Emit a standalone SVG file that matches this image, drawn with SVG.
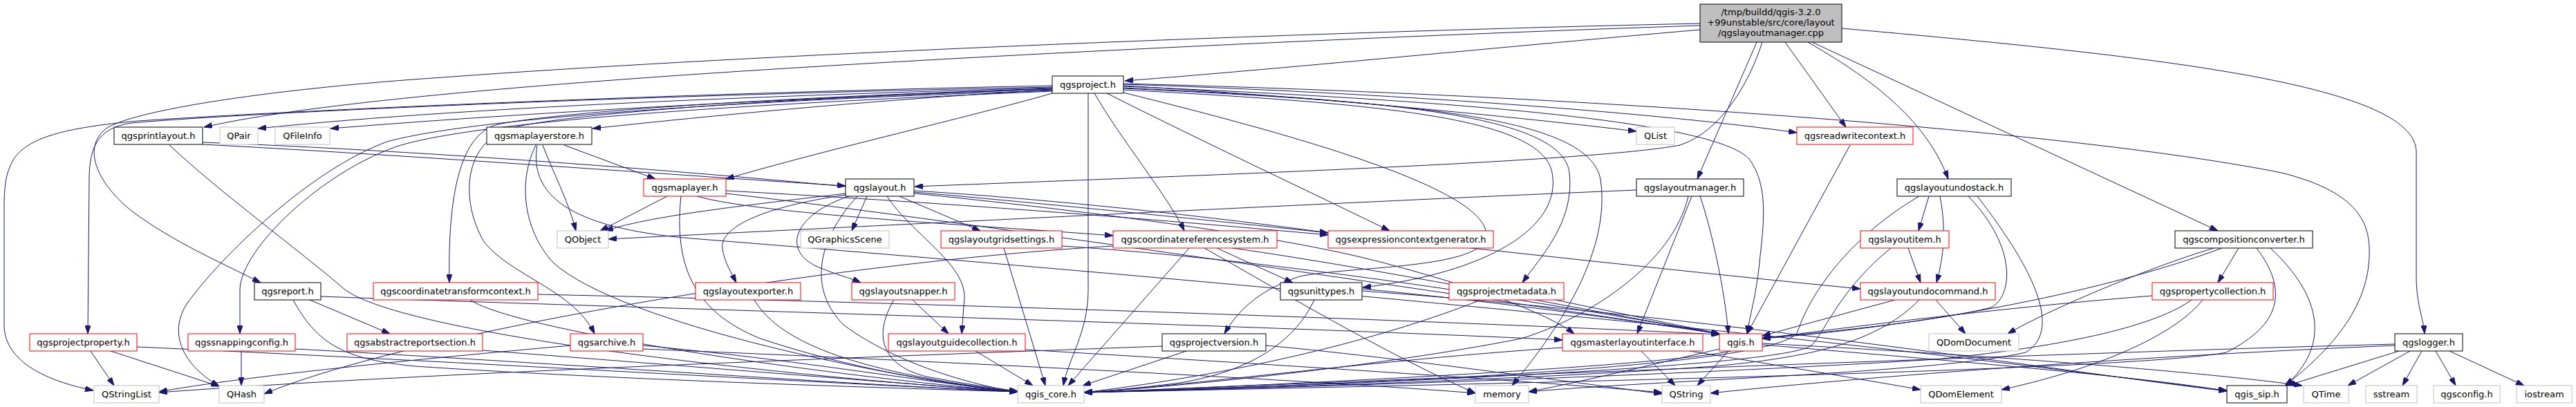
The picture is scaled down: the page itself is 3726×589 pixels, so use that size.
<svg xmlns="http://www.w3.org/2000/svg" width="3726" height="589" viewBox="0 0 3726 589">
<style>
.e path{fill:none;stroke:#191970;stroke-width:1;marker-end:url(#a)}
rect{fill:#fff;stroke-width:1}
.k rect{stroke:#000}
.r rect{stroke:#ff0000}
.g rect{stroke:#bfbfbf}
#root rect{fill:#bfbfbf;stroke:#000}
text{font-family:"DejaVu Sans","Liberation Sans",sans-serif;font-size:13px;text-anchor:middle;fill:#000}
</style>
<defs>
<marker id="a" viewBox="0 0 12 8" refX="12" refY="4" markerWidth="12" markerHeight="8" markerUnits="userSpaceOnUse" orient="auto"><path d="M0,0 L12,4 L0,8 Z" fill="#191970" stroke="#191970"/></marker>
</defs>
<rect x="0" y="0" width="3726" height="589" style="fill:#fff;stroke:none"/>
<g id="edges" class="e">
<path d="M2459,43 C2150,70 1850,100 1627,117"/>
<path d="M2459,37 C2000,52 1300,85 900,115 C600,137 400,160 295,184"/>
<path d="M2459,34 C1900,46 1100,78 640,112 C400,128 200,158 155,185 C120,210 135,260 190,305 C250,350 320,380 377,409"/>
<path d="M2541,61 L2455,259"/>
<path d="M2549,61 C2530,120 2490,190 2430,210 C2300,235 1700,255 1323,270"/>
<path d="M2582,61 L2670,184"/>
<path d="M2615,61 C2700,110 2785,170 2818,259"/>
<path d="M2621,61 L3208,334"/>
<path d="M2664,41 C3100,80 3495,120 3495,220 L3495,400 C3495,440 3505,460 3507,483"/>
<path d="M1522,124 C1100,132 500,155 200,175 C90,185 40,200 20,230 C8,250 6,270 6,300 L6,470 C6,520 60,550 135,565"/>
<path d="M1522,126 C1000,136 400,160 190,178 C140,185 129,215 129,260 L127,483"/>
<path d="M1522,127 C1200,136 700,152 373,186"/>
<path d="M1522,129 C1200,140 800,160 478,186"/>
<path d="M1522,130 C1300,142 1050,165 857,186"/>
<path d="M1522,135 C1400,170 1200,215 1050,259"/>
<path d="M1522,132 C1150,148 720,170 580,210 C470,245 347,360 347,420 L347,483"/>
<path d="M1522,131 C1050,146 680,172 560,205 C450,245 320,370 270,440 C245,480 260,525 317,559"/>
<path d="M1522,128 C1150,140 820,160 720,180 C660,195 648,300 650,409"/>
<path d="M1522,129 C1150,141 830,163 740,185 C670,205 665,290 700,350 C740,400 830,420 860,483"/>
<path d="M1574,135 L1574,420 C1574,480 1545,520 1538,558"/>
<path d="M1583,135 C1620,200 1690,285 1713,334"/>
<path d="M1601,135 C1750,210 1900,280 2010,334"/>
<path d="M1625,130 C2000,150 2230,170 2245,250 C2260,330 2150,395 1971,416"/>
<path d="M1625,127 C2000,145 2260,165 2270,250 C2278,320 2230,370 2202,409"/>
<path d="M1625,134 C1850,190 2150,270 2150,340 C2150,390 1950,385 1880,400 C1820,420 1790,450 1771,483"/>
<path d="M1625,128 C2050,148 2300,170 2315,260 C2330,360 2260,470 2187,558"/>
<path d="M1625,124 C1900,140 2200,170 2367,190"/>
<path d="M1625,122 C2000,134 2400,163 2599,192"/>
<path d="M1625,121 C2300,138 3000,190 3300,250 C3420,280 3428,330 3427,370 C3425,440 3380,500 3305,558"/>
<path d="M1625,125 C2100,145 2480,175 2530,230 C2560,270 2550,330 2545,380 C2540,430 2530,460 2527,483"/>
<path d="M293,209 C600,225 1000,255 1223,269"/>
<path d="M245,210 C320,280 430,360 500,420 C600,490 1200,550 1472,567"/>
<path d="M293,206 C800,225 1700,300 2000,380 C2150,420 2240,455 2277,483"/>
<path d="M448,434 L564,483"/>
<path d="M464,429 C900,445 1800,470 2260,492"/>
<path d="M424,434 C460,500 500,520 600,530 C900,550 1300,562 1472,567"/>
<path d="M131,508 L165,558"/>
<path d="M160,508 L317,559"/>
<path d="M198,502 C600,520 1200,555 1472,567"/>
<path d="M349,508 L349,558"/>
<path d="M427,505 C800,525 1200,555 1472,567"/>
<path d="M698,507 C1000,530 1300,555 1472,567"/>
<path d="M680,434 C750,480 1200,545 1472,567"/>
<path d="M778,426 C1400,440 2100,465 2487,484"/>
<path d="M930,500 C1150,520 1350,555 1472,567"/>
<path d="M825,500 C600,520 350,545 230,567"/>
<path d="M930,505 C1300,520 1900,550 2134,569"/>
<path d="M816,210 L948,259"/>
<path d="M785,210 C800,250 822,290 833,334"/>
<path d="M775,210 C750,260 755,330 800,380 C900,470 1300,550 1472,567"/>
<path d="M777,210 C765,280 820,330 1000,345 C1500,385 2000,430 2400,470 C2800,510 3050,545 3221,565"/>
<path d="M965,284 L868,334"/>
<path d="M985,284 C975,380 1000,450 1100,490 C1250,540 1400,560 1472,567"/>
<path d="M1050,276 C1400,295 1700,320 1921,340"/>
<path d="M1008,284 C1100,310 1400,325 1610,341"/>
<path d="M1050,280 C1400,320 2200,440 2487,483"/>
<path d="M1223,280 C1100,295 950,310 875,334"/>
<path d="M1254,284 L1232,334"/>
<path d="M1301,284 L1418,334"/>
<path d="M1228,284 C1150,310 1130,360 1180,385 C1210,398 1230,402 1245,409"/>
<path d="M1223,282 C1100,300 1040,330 1045,360 C1048,380 1058,395 1065,409"/>
<path d="M1283,284 C1320,340 1395,380 1395,430 L1391,483"/>
<path d="M1322,276 C1550,290 1800,320 1921,337"/>
<path d="M1322,278 C1800,320 2300,380 2691,418"/>
<path d="M1240,284 C1180,350 1170,420 1220,470 C1300,530 1420,560 1472,567"/>
<path d="M2367,275 C2000,290 1300,325 880,346"/>
<path d="M2447,284 L2368,483"/>
<path d="M2459,284 C2475,330 2495,420 2500,483"/>
<path d="M2442,284 C2420,380 2300,460 2200,490 C2000,530 1700,560 1568,568"/>
<path d="M2676,210 L2527,483"/>
<path d="M2776,284 C2680,340 2620,420 2600,480 C2580,530 2000,555 1568,568"/>
<path d="M2790,284 L2775,334"/>
<path d="M2806,284 C2815,330 2812,370 2801,409"/>
<path d="M2847,284 C2920,360 2910,430 2880,445 C2800,465 2650,480 2549,489"/>
<path d="M2860,284 C2950,400 2980,480 2930,510 C2800,540 2400,550 2211,567"/>
<path d="M2760,359 L2778,409"/>
<path d="M2735,359 C2660,420 2640,480 2620,500 C2580,530 2000,555 1568,568"/>
<path d="M2741,434 L2549,486"/>
<path d="M2776,434 C2720,490 2640,515 2480,530 C2200,550 1800,562 1568,568"/>
<path d="M2800,434 L2843,483"/>
<path d="M3202,359 C3100,390 2960,450 2904,483"/>
<path d="M3214,359 C3050,420 2800,470 2549,490"/>
<path d="M3238,359 L3208,409"/>
<path d="M3264,359 C3310,420 3300,470 3220,510 C3100,535 2200,555 1568,568"/>
<path d="M3284,359 C3360,430 3370,500 3306,558"/>
<path d="M3113,428 C2900,445 2700,470 2549,490"/>
<path d="M3170,434 C3120,470 3000,500 2800,520 C2400,545 1900,560 1568,568"/>
<path d="M3186,434 C3150,480 3050,530 2895,564"/>
<path d="M3464,498 C3000,510 2000,550 1568,568"/>
<path d="M3464,500 C3100,515 2700,545 2474,569"/>
<path d="M3470,508 L3308,558"/>
<path d="M3486,508 L3396,558"/>
<path d="M3503,508 L3475,558"/>
<path d="M3523,508 L3552,558"/>
<path d="M3543,508 L3651,558"/>
<path d="M1901,434 C1870,500 1800,540 1700,555 C1640,562 1600,566 1568,568"/>
<path d="M1970,418 C2200,440 2400,470 2487,483"/>
<path d="M1970,421 C2500,460 3000,540 3221,566"/>
<path d="M2142,434 C2000,490 1800,540 1568,568"/>
<path d="M2250,434 C2350,455 2450,475 2487,483"/>
<path d="M2260,503 C2000,520 1700,560 1568,568"/>
<path d="M2374,508 L2423,558"/>
<path d="M2444,508 C2550,525 2700,550 2778,564"/>
<path d="M2504,508 C2400,530 1900,555 1568,568"/>
<path d="M2500,508 L2455,558"/>
<path d="M2487,505 C2400,525 2300,550 2211,567"/>
<path d="M2549,499 C2800,520 3100,545 3221,566"/>
<path d="M2549,497 C2900,515 3200,540 3330,558"/>
<path d="M1716,508 L1566,558"/>
<path d="M1681,501 C1300,515 600,540 230,568"/>
<path d="M1831,500 C2000,515 2250,550 2404,570"/>
<path d="M1452,359 L1512,558"/>
<path d="M1536,356 C1900,380 2300,450 2487,483"/>
<path d="M1091,434 C1130,500 1250,540 1472,567"/>
<path d="M1293,434 C1260,490 1280,530 1340,545 C1400,556 1440,562 1472,566"/>
<path d="M1320,434 L1372,483"/>
<path d="M1411,508 L1494,558"/>
<path d="M1483,506 C1800,525 2200,550 2404,568"/>
<path d="M1720,359 L1545,558"/>
<path d="M1760,359 L1870,409"/>
<path d="M1783,359 C2000,390 2300,450 2487,483"/>
<path d="M1610,356 C1200,380 600,480 382,570"/>
<path d="M1742,359 C1850,420 2000,510 2134,569"/>
</g>
<g id="root"><rect x="2459" y="6" width="205" height="55"/><text x="2561.5" y="21.5">/tmp/buildd/qgis-3.2.0</text><text x="2561.5" y="36.5">+99unstable/src/core/layout</text><text x="2561.5" y="51.5">/qgslayoutmanager.cpp</text></g>
<g id="qgsproject" class="k"><rect x="1522" y="110" width="103" height="25"/><text x="1573.5" y="127">qgsproject.h</text></g>
<g id="qgsprintlayout" class="k"><rect x="165" y="184" width="128" height="25"/><text x="229" y="201">qgsprintlayout.h</text></g>
<g id="QPair" class="g"><rect x="318" y="184" width="55" height="25"/><text x="345.5" y="201">QPair</text></g>
<g id="QFileInfo" class="g"><rect x="398" y="184" width="79" height="25"/><text x="437.5" y="201">QFileInfo</text></g>
<g id="qgsmaplayerstore" class="k"><rect x="704" y="184" width="152" height="25"/><text x="780" y="201">qgsmaplayerstore.h</text></g>
<g id="QList" class="g"><rect x="2367" y="184" width="55" height="25"/><text x="2394.5" y="201">QList</text></g>
<g id="qgsreadwritecontext" class="r"><rect x="2599" y="184" width="168" height="25"/><text x="2683" y="201">qgsreadwritecontext.h</text></g>
<g id="qgsmaplayer" class="r"><rect x="931" y="259" width="119" height="25"/><text x="990.5" y="276">qgsmaplayer.h</text></g>
<g id="qgslayout" class="k"><rect x="1223" y="259" width="99" height="25"/><text x="1272.5" y="276">qgslayout.h</text></g>
<g id="qgslayoutmanager" class="k"><rect x="2367" y="259" width="155" height="25"/><text x="2444.5" y="276">qgslayoutmanager.h</text></g>
<g id="qgslayoutundostack" class="k"><rect x="2744" y="259" width="165" height="25"/><text x="2826.5" y="276">qgslayoutundostack.h</text></g>
<g id="QObject" class="g"><rect x="806" y="334" width="74" height="25"/><text x="843" y="351">QObject</text></g>
<g id="QGraphicsScene" class="g"><rect x="1158" y="334" width="128" height="25"/><text x="1222" y="351">QGraphicsScene</text></g>
<g id="qgslayoutgridsettings" class="r"><rect x="1361" y="334" width="175" height="25"/><text x="1448.5" y="351">qgslayoutgridsettings.h</text></g>
<g id="qgscoordinatereferencesystem" class="r"><rect x="1610" y="334" width="237" height="25"/><text x="1728.5" y="351">qgscoordinatereferencesystem.h</text></g>
<g id="qgsexpressioncontextgenerator" class="r"><rect x="1921" y="334" width="239" height="25"/><text x="2040.5" y="351">qgsexpressioncontextgenerator.h</text></g>
<g id="qgslayoutitem" class="r"><rect x="2691" y="334" width="128" height="25"/><text x="2755" y="351">qgslayoutitem.h</text></g>
<g id="qgscompositionconverter" class="k"><rect x="3146" y="334" width="199" height="25"/><text x="3245.5" y="351">qgscompositionconverter.h</text></g>
<g id="qgsreport" class="k"><rect x="368" y="409" width="96" height="25"/><text x="416" y="426">qgsreport.h</text></g>
<g id="qgscoordinatetransformcontext" class="r"><rect x="540" y="409" width="238" height="25"/><text x="659" y="426">qgscoordinatetransformcontext.h</text></g>
<g id="qgslayoutexporter" class="r"><rect x="1006" y="409" width="152" height="25"/><text x="1082" y="426">qgslayoutexporter.h</text></g>
<g id="qgslayoutsnapper" class="r"><rect x="1232" y="409" width="149" height="25"/><text x="1306.5" y="426">qgslayoutsnapper.h</text></g>
<g id="qgsunittypes" class="k"><rect x="1852" y="409" width="118" height="25"/><text x="1911" y="426">qgsunittypes.h</text></g>
<g id="qgsprojectmetadata" class="r"><rect x="2096" y="409" width="166" height="25"/><text x="2179" y="426">qgsprojectmetadata.h</text></g>
<g id="qgslayoutundocommand" class="r"><rect x="2691" y="409" width="195" height="25"/><text x="2788.5" y="426">qgslayoutundocommand.h</text></g>
<g id="qgspropertycollection" class="r"><rect x="3113" y="409" width="175" height="25"/><text x="3200.5" y="426">qgspropertycollection.h</text></g>
<g id="qgsprojectproperty" class="r"><rect x="43" y="483" width="155" height="25"/><text x="120.5" y="500">qgsprojectproperty.h</text></g>
<g id="qgssnappingconfig" class="r"><rect x="272" y="483" width="155" height="25"/><text x="349.5" y="500">qgssnappingconfig.h</text></g>
<g id="qgsabstractreportsection" class="r"><rect x="502" y="483" width="196" height="25"/><text x="600" y="500">qgsabstractreportsection.h</text></g>
<g id="qgsarchive" class="r"><rect x="825" y="483" width="105" height="25"/><text x="877.5" y="500">qgsarchive.h</text></g>
<g id="qgslayoutguidecollection" class="r"><rect x="1285" y="483" width="198" height="25"/><text x="1384" y="500">qgslayoutguidecollection.h</text></g>
<g id="qgsprojectversion" class="k"><rect x="1681" y="483" width="150" height="25"/><text x="1756" y="500">qgsprojectversion.h</text></g>
<g id="qgsmasterlayoutinterface" class="r"><rect x="2260" y="483" width="203" height="25"/><text x="2361.5" y="500">qgsmasterlayoutinterface.h</text></g>
<g id="qgis" class="r"><rect x="2487" y="483" width="62" height="25"/><text x="2518" y="500">qgis.h</text></g>
<g id="QDomDocument" class="g"><rect x="2790" y="483" width="130" height="25"/><text x="2855" y="500">QDomDocument</text></g>
<g id="qgslogger" class="k"><rect x="3464" y="483" width="98" height="25"/><text x="3513" y="500">qgslogger.h</text></g>
<g id="QStringList" class="g"><rect x="136" y="558" width="94" height="25"/><text x="183" y="575">QStringList</text></g>
<g id="QHash" class="g"><rect x="317" y="558" width="65" height="25"/><text x="349.5" y="575">QHash</text></g>
<g id="qgis_core" class="g"><rect x="1472" y="558" width="96" height="25"/><text x="1520" y="575">qgis_core.h</text></g>
<g id="memory" class="g"><rect x="2134" y="558" width="77" height="25"/><text x="2172.5" y="575">memory</text></g>
<g id="QString" class="g"><rect x="2404" y="558" width="70" height="25"/><text x="2439" y="575">QString</text></g>
<g id="QDomElement" class="g"><rect x="2778" y="558" width="117" height="25"/><text x="2836.5" y="575">QDomElement</text></g>
<g id="qgis_sip" class="k"><rect x="3221" y="558" width="87" height="25"/><text x="3264.5" y="575">qgis_sip.h</text></g>
<g id="QTime" class="g"><rect x="3332" y="558" width="65" height="25"/><text x="3364.5" y="575">QTime</text></g>
<g id="sstream" class="g"><rect x="3422" y="558" width="74" height="25"/><text x="3459" y="575">sstream</text></g>
<g id="qgsconfig" class="g"><rect x="3520" y="558" width="96" height="25"/><text x="3568" y="575">qgsconfig.h</text></g>
<g id="iostream" class="g"><rect x="3640" y="558" width="80" height="25"/><text x="3680" y="575">iostream</text></g>
</svg>
